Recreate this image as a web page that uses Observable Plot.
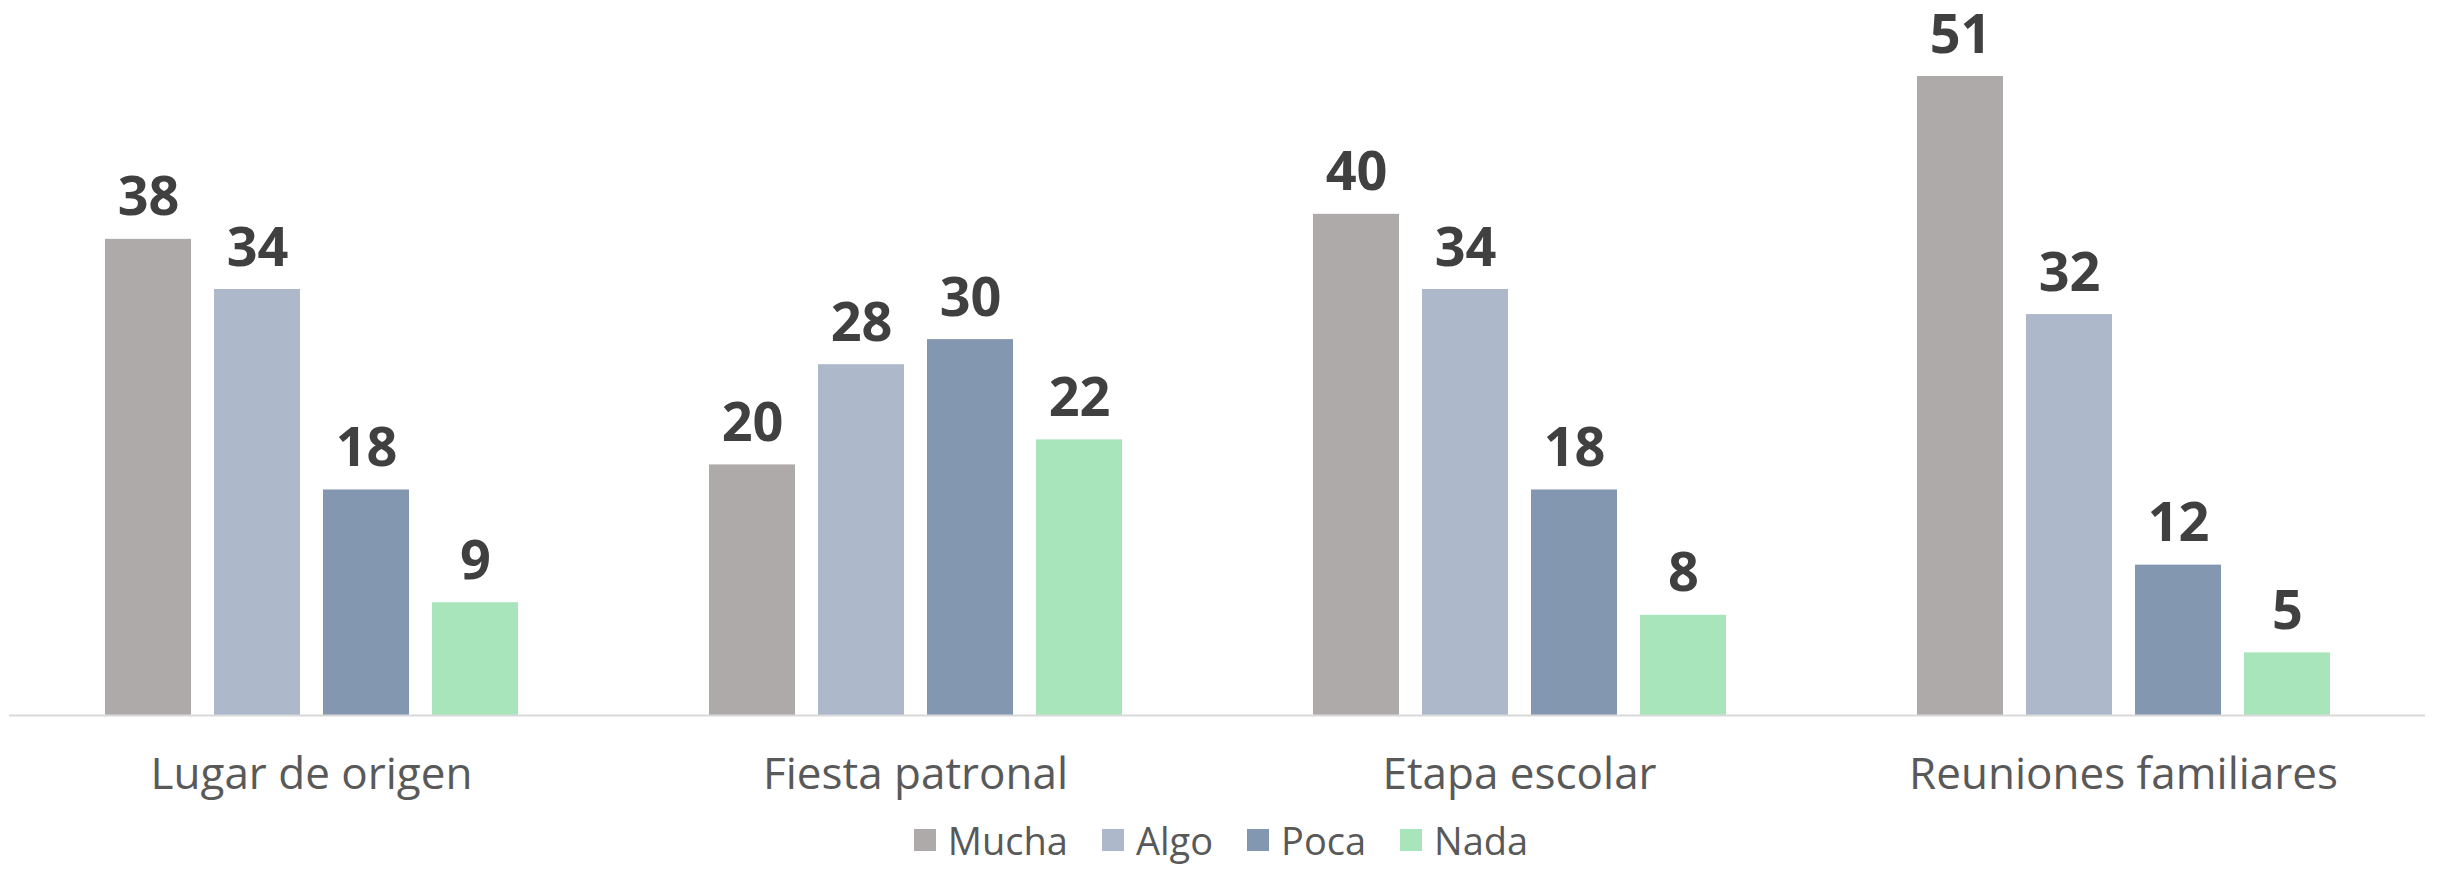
<!DOCTYPE html>
<html>
<head>
<meta charset="utf-8">
<script src="https://cdn.jsdelivr.net/npm/d3@7"></script>
<script src="https://cdn.jsdelivr.net/npm/@observablehq/plot@0.6"></script>
<style>
  html, body { margin: 0; padding: 0; background: #fff; }
  #chart { width: 2438px; }
  #chart svg { overflow: visible; }
  .legend { display: flex; justify-content: center; align-items: center; height: 60px; font-family: "Open Sans", "Noto Sans", sans-serif; font-size: 38px; color: #595959; padding-left: 4px; }
  .legend .item { display: flex; align-items: center; margin: 0 17px; }
  .legend .sw { width: 22px; height: 22px; margin-right: 12px; }
</style>
</head>
<body>
<div id="chart"></div>
<script>
const categories = ["Lugar de origen", "Fiesta patronal", "Etapa escolar", "Reuniones familiares"];
const series = ["Mucha", "Algo", "Poca", "Nada"];
const colors = ["#aeaaaa", "#adb9ca", "#8497b0", "#a9e5bb"];
const mucha = [38, 20, 40, 51];
const algo = [34, 28, 34, 32];
const poca = [18, 30, 18, 12];
const nada = [9, 22, 8, 5];

const seriesValues = [mucha, algo, poca, nada];
const data = [];
categories.forEach((c, i) => {
  series.forEach((s, j) => {
    data.push({category: c, serie: s, value: seriesValues[j][i]});
  });
});

const plot = Plot.plot({
  width: 2438,
  height: 810,
  marginLeft: 9,
  marginRight: 13,
  marginTop: 76,
  marginBottom: 95,
  style: {fontFamily: "'Open Sans', 'Noto Sans', sans-serif", background: "#fff", overflow: "visible"},
  fx: {domain: categories, padding: 0, label: null},
  x: {domain: series, paddingInner: 0.2146, paddingOuter: 0.865, axis: null},
  y: {domain: [0, 51], axis: null},
  color: {domain: series, range: colors},
  marks: [
    Plot.barY(data, {fx: "category", x: "serie", y: "value", fill: "serie"}),
    Plot.ruleY([0], {stroke: "#d9d9d9", strokeWidth: 2}),
    Plot.text(data, {fx: "category", x: "serie", y: "value", text: d => String(d.value), lineAnchor: "bottom", dy: -24, fontSize: 54, fontWeight: "bold", fill: "#404040"}),
    Plot.axisFx({tickSize: 0, tickPadding: 42, fontSize: 44, color: "#595959", label: null, anchor: "bottom"})
  ]
});
document.getElementById("chart").appendChild(plot);

const legend = document.createElement("div");
legend.className = "legend";
series.forEach((s, j) => {
  const item = document.createElement("div");
  item.className = "item";
  const sw = document.createElement("div");
  sw.className = "sw";
  sw.style.background = colors[j];
  const label = document.createElement("span");
  label.textContent = s;
  item.appendChild(sw);
  item.appendChild(label);
  legend.appendChild(item);
});
document.getElementById("chart").appendChild(legend);
</script>
</body>
</html>
